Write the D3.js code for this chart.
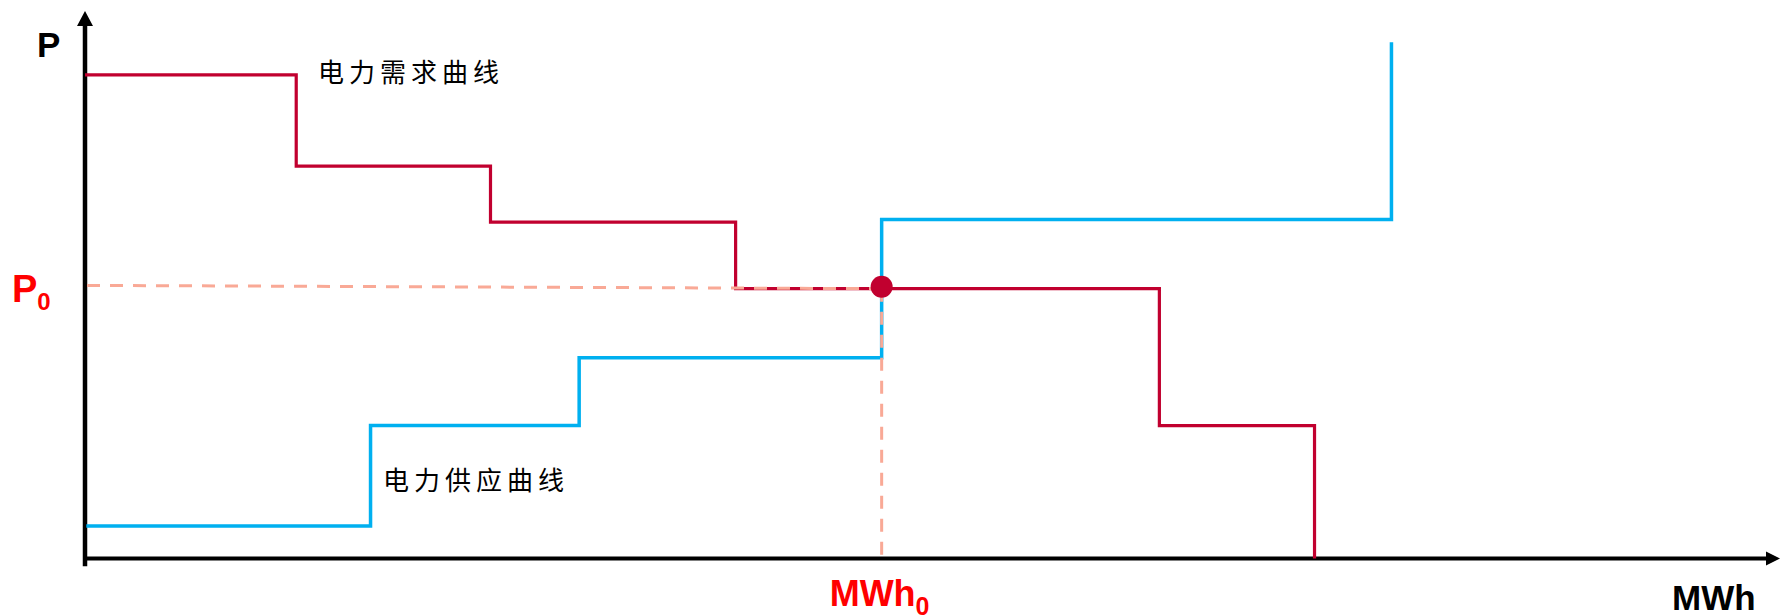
<!DOCTYPE html>
<html>
<head>
<meta charset="utf-8">
<script src="https://cdn.jsdelivr.net/npm/d3@7"></script>
<style>
  html, body { margin: 0; padding: 0; background: #fff; }
  svg { display: block; }
</style>
</head>
<body>
<svg id="chart" width="1780" height="616"></svg>
<script>
// ---- data (abstract units) ----
const demandQ = [0, 16.2, 31.1, 49.9, 82.4, 94.3];   // quantity where each demand step starts (last = drop to zero)
const demandP = [37.1, 30.1, 25.8, 20.7, 10.2, 0];   // price of each demand step
const supplyQ = [0.1, 21.9, 37.9, 61.1, 100.2];      // quantity where each supply step starts
const supplyP = [2.5, 10.2, 15.4, 26.0, 39.6];       // price of each supply step (last = top end)
const equilibriumQ = [61.1];
const equilibriumP = [20.7];
const axisLabels = ["P", "MWh"];
const curveLabels = ["电力需求曲线", "电力供应曲线"];
const eqLabels = ["P", "MWh", "0"];

const svg = d3.select("#chart");
const x = d3.scaleLinear().domain([0, 130]).range([85, 1780]);
const y = d3.scaleLinear().domain([0, 42]).range([558.5, 11]);

const red = "#C1002F", blue = "#00B0F0", salmon = "#F9A996";

// axes
const axes = svg.append("g");
axes.append("line")
  .attr("x1", x(0)).attr("x2", x(0))
  .attr("y1", y(-0.6)).attr("y2", y(42) + 12)
  .attr("stroke", "#000").attr("stroke-width", 4.5);
axes.append("path")
  .attr("d", `M${x(0)},${y(42)} L${x(0) - 8},${y(42) + 15} L${x(0) + 8},${y(42) + 15} Z`)
  .attr("fill", "#000");
axes.append("line")
  .attr("x1", x(0)).attr("x2", x(130) - 12)
  .attr("y1", y(0)).attr("y2", y(0))
  .attr("stroke", "#000").attr("stroke-width", 4);
axes.append("path")
  .attr("d", `M${x(130)},${y(0)} L${x(130) - 14},${y(0) - 7} L${x(130) - 14},${y(0) + 7} Z`)
  .attr("fill", "#000");

const line = d3.line().x(d => x(d[0])).y(d => y(d[1])).curve(d3.curveStepAfter);

// supply curve
svg.append("path")
  .attr("d", line(supplyQ.map((q, i) => [q, supplyP[i]])))
  .attr("fill", "none").attr("stroke", blue).attr("stroke-width", 3.5);

// demand curve
svg.append("path")
  .attr("d", line(demandQ.map((q, i) => [q, demandP[i]])))
  .attr("fill", "none").attr("stroke", red).attr("stroke-width", 3.2);

// equilibrium guides
const q0 = equilibriumQ[0], p0 = equilibriumP[0];
svg.append("line")
  .attr("x1", x(0) + 2).attr("x2", x(q0)).attr("y1", y(p0 + 0.25)).attr("y2", y(p0))
  .attr("stroke", salmon).attr("stroke-width", 3).attr("stroke-dasharray", "13,10");
svg.append("line")
  .attr("x1", x(q0)).attr("x2", x(q0)).attr("y1", y(p0)).attr("y2", y(0) - 1)
  .attr("stroke", salmon).attr("stroke-width", 3).attr("stroke-dasharray", "13,10");
svg.append("circle")
  .attr("cx", x(q0)).attr("cy", y(p0) - 2).attr("r", 11).attr("fill", red);

// labels
svg.append("text").attr("x", 37).attr("y", 57)
  .attr("font-family", "Liberation Sans, Arial, sans-serif").attr("font-weight", "bold")
  .attr("font-size", 35).attr("fill", "#000").text(axisLabels[0]);
svg.append("text").attr("x", 1672).attr("y", 610)
  .attr("font-family", "Liberation Sans, Arial, sans-serif").attr("font-weight", "bold")
  .attr("font-size", 35).attr("fill", "#000").text(axisLabels[1]);

const p0t = svg.append("text").attr("x", 12).attr("y", y(p0) + 13)
  .attr("font-family", "Liberation Sans, Arial, sans-serif").attr("font-weight", "bold")
  .attr("fill", "#FF0000").attr("font-size", 38);
p0t.append("tspan").text(eqLabels[0]);
p0t.append("tspan").attr("font-size", 24).attr("dy", 8).text(eqLabels[2]);

const q0t = svg.append("text").attr("x", x(q0) - 52).attr("y", 606)
  .attr("font-family", "Liberation Sans, Arial, sans-serif").attr("font-weight", "bold")
  .attr("fill", "#FF0000").attr("font-size", 36);
q0t.append("tspan").text(eqLabels[1]);
q0t.append("tspan").attr("font-size", 25).attr("dy", 9).text(eqLabels[2]);

const cjk = "'Noto Sans CJK SC', 'Noto Sans CJK JP', sans-serif";
svg.append("text").attr("x", 318).attr("y", 82)
  .attr("font-family", cjk).attr("font-size", 26).attr("letter-spacing", 5)
  .attr("font-weight", 400).attr("fill", "#000").text(curveLabels[0]);
svg.append("text").attr("x", 383).attr("y", 490)
  .attr("font-family", cjk).attr("font-size", 26).attr("letter-spacing", 5)
  .attr("font-weight", 400).attr("fill", "#000").text(curveLabels[1]);
</script>
</body>
</html>
